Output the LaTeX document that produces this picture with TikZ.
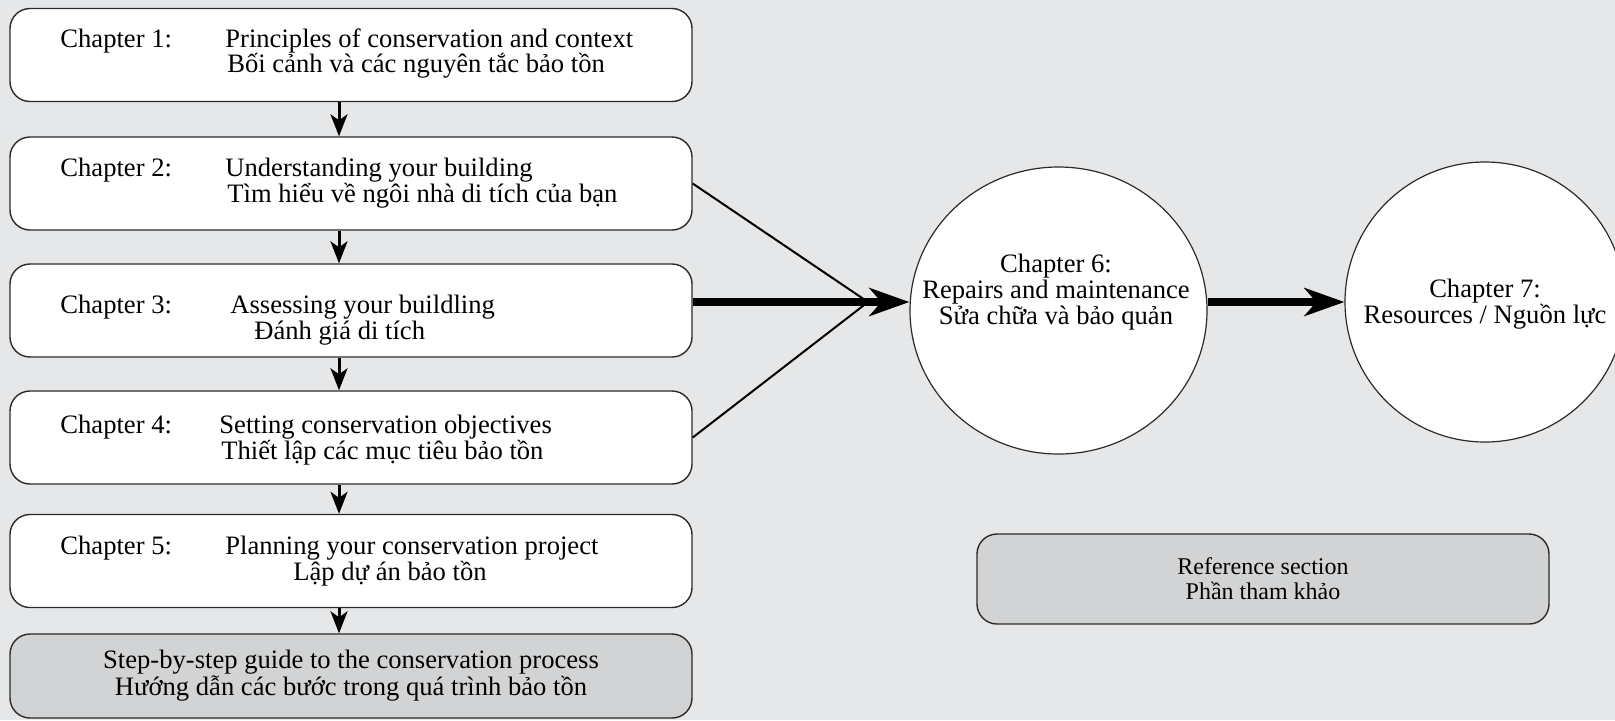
\documentclass[tikz,border=0pt]{standalone}
\usepackage{fontspec}
\setmainfont{Liberation Serif}
\usetikzlibrary{arrows.meta,shapes.geometric}
\definecolor{pagegrey}{HTML}{E6E7E8}
\definecolor{boxgrey}{HTML}{D1D3D4}
\definecolor{edgegrey}{HTML}{2B2B2B}

\begin{document}
\begin{tikzpicture}[x=0.5pt, y=-0.5pt,
        every node/.style={font=\fontsize{13.3}{13}\selectfont},
        chapbox/.style={draw=edgegrey, line width=0.7pt, fill=white, rounded corners=10pt, minimum width=341pt, minimum height=46.5pt, inner sep=0pt},
        guidebox/.style={chapbox, fill=boxgrey, minimum height=42pt, align=center, font=\fontsize{13.3}{13.5}\selectfont},
        refbox/.style={chapbox, fill=boxgrey, minimum width=286pt, minimum height=45pt, align=center, font=\fontsize{12}{12.5}\selectfont},
        txt/.style={anchor=base west, inner sep=0pt},
        bubble/.style={draw=edgegrey, line width=0.6pt, fill=white, inner sep=0pt},
        smallarrow/.style={-{Stealth[length=11pt, width=8.5pt, inset=3pt]}, line width=1.5pt},
        bigarrow/.style={-{Stealth[length=20pt, width=14pt, inset=6pt]}, line width=4pt},
        feedline/.style={line width=1pt}]
        \fill [pagegrey] (0,0) rectangle (1615,720);
        \useasboundingbox (0,0) rectangle (1615,720);
        \clip (0,0) rectangle (1615,720);

        % chapter boxes on the left
        \node [chapbox] (ch1) at (351,55) {};
        \node [chapbox] (ch2) at (351,183.5) {};
        \node [chapbox] (ch3) at (351,310.5) {};
        \node [chapbox] (ch4) at (351,437.5) {};
        \node [chapbox] (ch5) at (351,561) {};
        \node [guidebox] (guide) at (351,676) {Step-by-step guide to the conservation process\\Hướng dẫn các bước trong quá trình bảo tồn};

        \node [txt] (ch1num) at (60,47) {Chapter 1:};
        \node [txt] (ch1en) at (225,47) {Principles of conservation and context};
        \node [txt] (ch1vi) at (227,72) {Bối cảnh và các nguyên tắc bảo tồn};
        \node [txt] (ch2num) at (60,176) {Chapter 2:};
        \node [txt] (ch2en) at (225,176) {Understanding your building};
        \node [txt] (ch2vi) at (227,202) {Tìm hiểu về ngôi nhà di tích của bạn};
        \node [txt] (ch3num) at (60,313) {Chapter 3:};
        \node [txt] (ch3en) at (230,313) {Assessing your buildling};
        \node [txt] (ch3vi) at (254,339) {Đánh giá di tích};
        \node [txt] (ch4num) at (60,433) {Chapter 4:};
        \node [txt] (ch4en) at (219,433) {Setting conservation objectives};
        \node [txt] (ch4vi) at (221,459) {Thiết lập các mục tiêu bảo tồn};
        \node [txt] (ch5num) at (60,554) {Chapter 5:};
        \node [txt] (ch5en) at (225,554) {Planning your conservation project};
        \node [txt] (ch5vi) at (293,580) {Lập dự án bảo tồn};

        \draw [smallarrow] ([xshift=-6pt]ch1.south) -- ([xshift=-6pt]ch2.north);
        \draw [smallarrow] ([xshift=-6pt]ch2.south) -- ([xshift=-6pt]ch3.north);
        \draw [smallarrow] ([xshift=-6pt]ch3.south) -- ([xshift=-6pt]ch4.north);
        \draw [smallarrow] ([xshift=-6pt]ch4.south) -- ([xshift=-6pt]ch5.north);
        \draw [smallarrow] ([xshift=-6pt]ch5.south) -- ([xshift=-6pt]guide.north);

        % chapters 6 and 7
        \node [bubble, ellipse, minimum width=148.5pt, minimum height=143.5pt] (ch6) at (1058.5,310.5) {};
        \node [bubble, circle, minimum size=140pt] (ch7) at (1485,302) {};
        \node [align=center] (ch6txt) at (1056,292) {Chapter 6:\\Repairs and maintenance\\Sửa chữa và bảo quản};
        \node [align=center] (ch7txt) at (1485,304) {Chapter 7:\\Resources / Nguồn lực};

        \coordinate (hub) at (868,302);
        \draw [feedline] (ch2.east) -- (hub);
        \draw [feedline] (ch4.east) -- (hub);
        \draw [bigarrow] (ch3.east |- hub) -- (ch6.west |- hub);
        \draw [bigarrow] (ch6.east |- hub) -- (ch7.west |- hub);

        \node [refbox] (refsec) at (1263,579) {Reference section\\Phần tham khảo};
    \end{tikzpicture}
\end{document}
